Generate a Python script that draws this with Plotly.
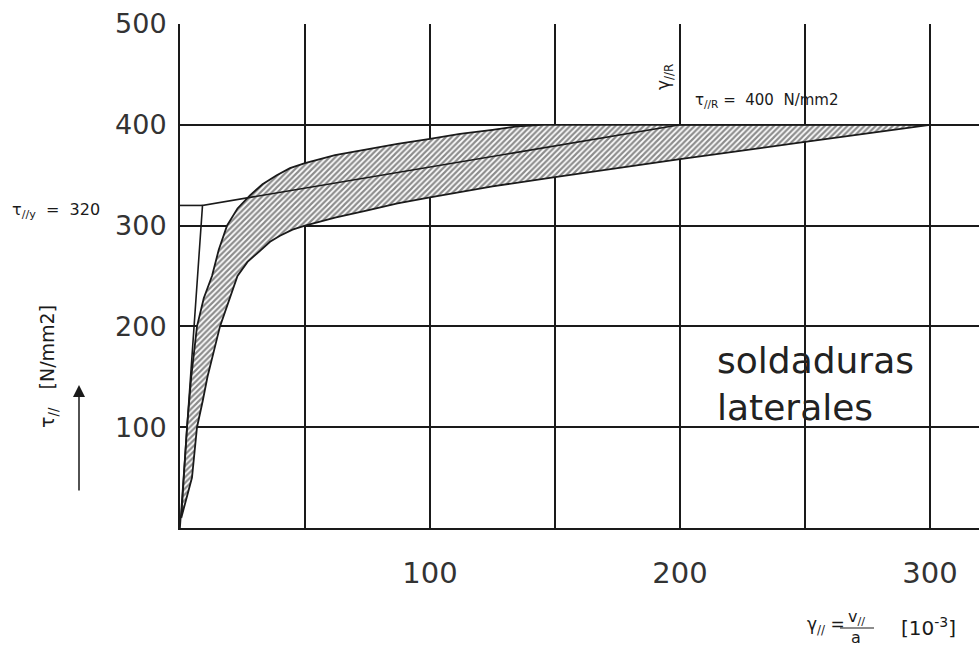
import plotly.graph_objects as go

# ---- data ----
upper_x = [0.5, 1.6, 2.8, 4.5, 6.8, 9.5, 12.8, 15.5, 18.8, 23, 28, 33, 38.7, 44, 50,
           62, 75, 87, 100, 112, 125, 135, 145, 200, 300]
upper_y = [10, 50, 100, 150, 200, 228, 250, 276, 300, 317, 330, 341, 350, 357, 362,
           370, 376, 381, 386, 391, 395, 398.5, 400, 400, 400]
lower_x = [0.5, 4.8, 6.8, 9, 11, 13.5, 16, 19.5, 23, 27, 32, 36, 40, 45, 50,
           62, 75, 87, 100, 125, 150, 200, 250, 300]
lower_y = [10, 50, 100, 125, 150, 175, 200, 226, 250, 264, 275, 284, 290, 296, 300,
           308, 315, 322, 328, 339, 348, 366, 383, 400]
model_x = [0, 9, 200, 300]
model_y = [0, 320, 400, 400]
yield_x = [0, 9]
yield_y = [320, 320]
x_ticks = [100, 200, 300]
x_minor = [50, 150, 250]
y_ticks = [100, 200, 300, 400, 500]

FONT = "DejaVu Sans"
INK = "#1a1a1a"

band_x = upper_x + lower_x[::-1]
band_y = upper_y + lower_y[::-1]

fig = go.Figure()
fig.add_trace(go.Scatter(
    x=band_x, y=band_y, mode="lines", fill="toself",
    line=dict(color=INK, width=1.8),
    fillcolor="rgba(0,0,0,0)",
    fillpattern=dict(shape="/", fgcolor=INK, bgcolor="white", size=4, solidity=0.55),
    hoverinfo="skip", showlegend=False))
fig.add_trace(go.Scatter(x=model_x, y=model_y, mode="lines",
                         line=dict(color=INK, width=1.6), showlegend=False))
fig.add_trace(go.Scatter(x=yield_x, y=yield_y, mode="lines",
                         line=dict(color=INK, width=1.6), showlegend=False))

L, R, T, B = 180, 0, 24, 121
W, H = 979, 649
pw, ph = W - L - R, H - T - B

def px(xp):
    return (xp - L) / pw

def py(yp):
    return (H - B - yp) / ph

grid = dict(showgrid=True, gridcolor=INK, gridwidth=2)
fig.update_layout(
    width=W, height=H, margin=dict(l=L, r=R, t=T, b=B),
    plot_bgcolor="white", paper_bgcolor="white",
    font=dict(family=FONT, color=INK),
    xaxis=dict(range=[0, 319.6], tickvals=x_ticks, ticktext=[str(v) for v in x_ticks],
               ticks="outside", ticklen=18, tickcolor="rgba(0,0,0,0)",
               tickfont=dict(size=29, family=FONT, color="#333"),
               showline=True, linecolor=INK, linewidth=2, zeroline=False,
               minor=dict(tickvals=x_minor, showgrid=True, gridcolor=INK, gridwidth=2),
               **grid),
    yaxis=dict(range=[0, 500], tickvals=y_ticks, ticktext=[str(v) for v in y_ticks],
               ticks="outside", ticklen=6, tickcolor="rgba(0,0,0,0)",
               tickfont=dict(size=27, family=FONT, color="#333"),
               showline=True, linecolor=INK, linewidth=2, zeroline=False,
               **grid),
)

ann = []
# in-plot label
ann.append(dict(x=214, y=143, xref="x", yref="y", xanchor="left", yanchor="middle",
                text="soldaduras<br>laterales", showarrow=False, align="left",
                font=dict(size=36, family=FONT, color="#222")))
ann.append(dict(x=px(693), y=py(100), xref="paper", yref="paper", xanchor="left",
                yanchor="middle", text="τ<sub>//R</sub> =  400  N/mm2", showarrow=False,
                font=dict(size=15, family=FONT, color=INK)))
ann.append(dict(x=px(665), y=py(77), xref="paper", yref="paper", xanchor="center",
                yanchor="middle", text="γ<sub>//R</sub>", textangle=-90, showarrow=False,
                font=dict(size=17, family=FONT, color=INK)))
# left side
ann.append(dict(x=px(10), y=py(210), xref="paper", yref="paper", xanchor="left",
                yanchor="middle", text="τ<sub>//y</sub>  =  320", showarrow=False,
                font=dict(size=16, family=FONT, color=INK)))
ann.append(dict(x=px(48), y=py(367), xref="paper", yref="paper", xanchor="center",
                yanchor="middle", text="τ<sub>//</sub>   [N/mm2]", textangle=-90,
                showarrow=False, font=dict(size=19, family=FONT, color=INK)))
ann.append(dict(x=px(79), y=py(385), xref="paper", yref="paper", ax=0, ay=107,
                axref="pixel", ayref="pixel", text="", showarrow=True,
                arrowhead=2, arrowsize=1.6, arrowwidth=1.5, arrowcolor=INK))
# x-axis title
ann.append(dict(x=px(805), y=py(625), xref="paper", yref="paper", xanchor="left",
                yanchor="middle", text="γ<sub>//</sub> =", showarrow=False,
                font=dict(size=17, family=FONT, color=INK)))
ann.append(dict(x=px(856), y=py(617), xref="paper", yref="paper", xanchor="center",
                yanchor="middle", text="v<sub>//</sub>", showarrow=False,
                font=dict(size=16, family=FONT, color=INK)))
ann.append(dict(x=px(856), y=py(637), xref="paper", yref="paper", xanchor="center",
                yanchor="middle", text="a", showarrow=False,
                font=dict(size=16, family=FONT, color=INK)))
ann.append(dict(x=px(928), y=py(627), xref="paper", yref="paper", xanchor="center",
                yanchor="middle", text="[10<sup>-3</sup>]", showarrow=False,
                font=dict(size=20, family=FONT, color=INK)))
fig.update_layout(annotations=ann)
fig.add_shape(type="line", xref="paper", yref="paper",
              x0=px(840), x1=px(874), y0=py(628), y1=py(628),
              line=dict(color=INK, width=1.2))

fig.write_html("out.html")
